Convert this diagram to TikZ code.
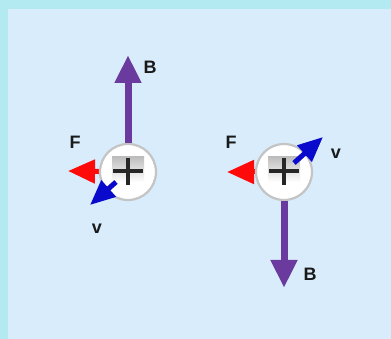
\documentclass[tikz,border=0pt]{standalone}
\usepackage{fontspec}
\setmainfont{Liberation Sans}
\usetikzlibrary{arrows.meta}
\definecolor{outerc}{HTML}{B3E9F1}
\definecolor{innerc}{HTML}{D8ECFB}
\definecolor{bcol}{HTML}{6B3A9E}
\definecolor{vcol}{HTML}{0A0ACC}
\definecolor{fcol}{HTML}{FF0A0A}
\definecolor{rimc}{HTML}{C4C4C4}
\definecolor{keyc}{HTML}{BEBEBE}
\tikzset{
  charge/.style={circle,draw=rimc,line width=2.2pt,fill=white,minimum size=56pt,inner sep=0pt},
  barrow/.style={draw=bcol,line width=7pt,-{Triangle[length=28pt,width=25pt]}},
  farrow/.style={draw=fcol,line width=5pt,-{Triangle[length=27pt,width=23pt]}},
  varrow/.style={draw=vcol,line width=5pt,-{Triangle[length=25pt,width=21pt]}},
  lbl/.style={font=\fontsize{18}{18}\selectfont\bfseries,text=black!90,inner sep=0pt},
  plusbar/.style={line width=4pt,draw=black!85}
}
\begin{document}
\begin{tikzpicture}[x=1pt,y=-1pt]
\useasboundingbox (0,0) rectangle (391,339);
\fill[outerc] (0,0) rectangle (391,339);
\fill[innerc] (8,9) rectangle (391,339);
% coordinates
\coordinate (b1tip) at (128,55);
\coordinate (f1tip) at (68,171);
\coordinate (v1tail) at (116,182);
\coordinate (v1tip) at (90,205);
\coordinate (b2tip) at (284,288);
\coordinate (f2tip) at (227,172);
\coordinate (v2tail) at (294,163);
\coordinate (v2tip) at (323,137);
\coordinate (c1) at (128,172);
\coordinate (c2) at (284,172);
\draw[farrow] (c1) -- (f1tip);
\draw[farrow] (c2) -- (f2tip);
\node[charge] (p1) at (c1) {};
\node[charge] (p2) at (c2) {};
\draw[barrow] (p1.north) -- (b1tip);
\draw[barrow] (p2.south) -- (b2tip);
\foreach \c in {c1,c2}{
  \shade[top color=keyc,bottom color=white] ([shift={(-16,-15)}]\c) rectangle ([shift={(16,10)}]\c);
  \draw[plusbar] ([shift={(-15,-1)}]\c) -- ([shift={(15,-1)}]\c);
  \draw[plusbar] ([shift={(0,-14)}]\c) -- ([shift={(0,13)}]\c);
}
\draw[varrow] (v1tail) -- (v1tip);
\draw[varrow] (v2tail) -- (v2tip);
% labels
\node[lbl] (lb1) at (150,67) {B};
\node[lbl] (lf1) at (75,142) {F};
\node[lbl] (lv1) at (97,229) {v};
\node[lbl] (lf2) at (231,142) {F};
\node[lbl] (lv2) at (336,154) {v};
\node[lbl] (lb2) at (310,274) {B};
\end{tikzpicture}
\end{document}
